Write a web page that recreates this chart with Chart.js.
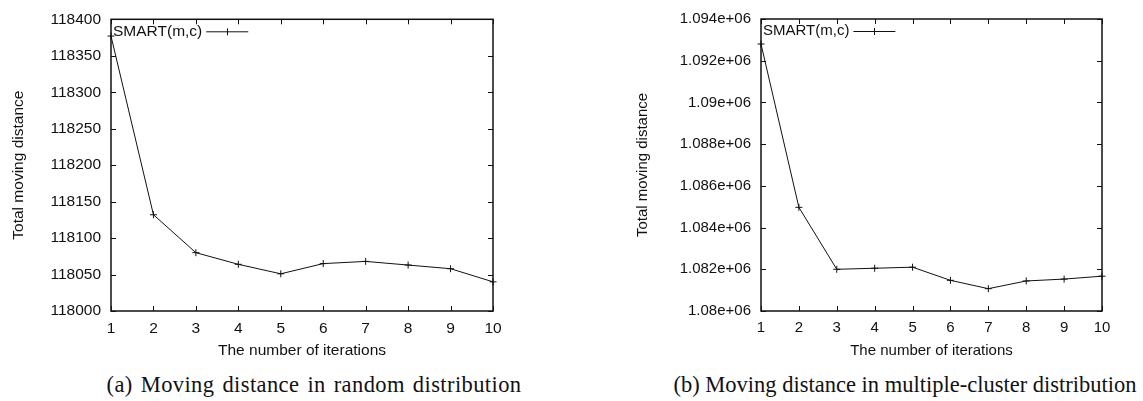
<!DOCTYPE html>
<html>
<head>
<meta charset="utf-8">
<script src="https://cdn.jsdelivr.net/npm/chart.js@4/dist/chart.umd.min.js"></script>
<style>
  body { margin: 0; background: #fff; width: 1143px; height: 401px; position: relative; overflow: hidden; }
  .box { position: absolute; top: 0; height: 370px; }
  #boxA { left: 0; width: 530px; }
  #boxB { left: 620px; width: 523px; }
  .caption { position: absolute; top: 374px; font-family: "Liberation Serif", "Times New Roman", serif; font-size: 22.5px; line-height: 1; color: #111; white-space: nowrap; transform: translateX(-50%); }
</style>
</head>
<body>
<div class="box" id="boxA"><canvas id="chartA"></canvas></div>
<div class="box" id="boxB"><canvas id="chartB"></canvas></div>
<div class="caption" style="left:314px; letter-spacing:0.4px; word-spacing:2px">(a) Moving distance in random distribution</div>
<div class="caption" style="left:905px">(b) Moving distance in multiple-cluster distribution</div>

<script>
const iterations = [1, 2, 3, 4, 5, 6, 7, 8, 9, 10];
const seriesName = 'SMART(m,c)';
// (a) random distribution
const randomDist = [118377, 118132, 118080, 118064, 118051, 118065, 118068, 118063, 118058, 118040];
// (b) multiple-cluster distribution
const clusterDist = [1092800, 1084970, 1082000, 1082050, 1082100, 1081470, 1081070, 1081440, 1081530, 1081670];

const fontFamily = 'Liberation Sans, Arial, sans-serif';
const inkColor = '#111';

// gnuplot style frame: box around the plot with inward ticks on all sides
const framePlugin = {
  id: 'frame',
  afterDatasetsDraw(chart) {
    const ctx = chart.ctx;
    const a = chart.chartArea;
    const xs = chart.scales.x, ys = chart.scales.y;
    const len = 5;
    ctx.save();
    ctx.strokeStyle = inkColor;
    ctx.lineWidth = 1.5;
    ctx.strokeRect(a.left, a.top, a.right - a.left, a.bottom - a.top);
    ctx.lineWidth = 1;
    ctx.beginPath();
    xs.ticks.forEach(t => {
      const px = Math.round(xs.getPixelForValue(t.value)) + 0.5;
      ctx.moveTo(px, a.bottom); ctx.lineTo(px, a.bottom - len);
      ctx.moveTo(px, a.top); ctx.lineTo(px, a.top + len);
    });
    ys.ticks.forEach(t => {
      const py = Math.round(ys.getPixelForValue(t.value)) + 0.5;
      ctx.moveTo(a.left, py); ctx.lineTo(a.left + len, py);
      ctx.moveTo(a.right, py); ctx.lineTo(a.right - len, py);
    });
    ctx.stroke();
    ctx.restore();
  }
};

// key in the top-left corner: text first, then the line sample
const keyPlugin = {
  id: 'key',
  afterDraw(chart) {
    const ctx = chart.ctx;
    const a = chart.chartArea;
    const ds = chart.data.datasets[0];
    const size = chart.options.scales.y.ticks.font.size;
    const y = a.top + 12;
    ctx.save();
    ctx.font = size + 'px ' + fontFamily;
    ctx.fillStyle = inkColor;
    ctx.textBaseline = 'middle';
    ctx.fillText(ds.label, a.left + 2, y);
    const x0 = a.left + 2 + ctx.measureText(ds.label).width + 4;
    const x1 = x0 + 42;
    ctx.strokeStyle = inkColor;
    ctx.lineWidth = 1;
    ctx.beginPath();
    ctx.moveTo(x0, y + 0.5); ctx.lineTo(x1, y + 0.5);
    const mx = Math.round((x0 + x1) / 2) + 0.5;
    ctx.moveTo(mx, y - 3); ctx.lineTo(mx, y + 4);
    ctx.stroke();
    ctx.restore();
  }
};

function makeChart(id, values, yMin, yMax, yStep, yWidth, padRight, yFormat, titlePad, fontSize) {
  const axisFont = { family: fontFamily, size: fontSize };
  return new Chart(document.getElementById(id), {
    type: 'line',
    data: {
      labels: iterations,
      datasets: [{
        label: seriesName,
        data: values.map((v, i) => ({ x: iterations[i], y: v })),
        borderColor: inkColor,
        borderWidth: 1,
        pointStyle: 'cross',
        pointRadius: 3.5,
        pointBorderWidth: 1,
        pointBorderColor: inkColor,
        tension: 0,
        clip: false,
      }],
    },
    options: {
      responsive: true,
      maintainAspectRatio: false,
      animation: false,
      layout: { padding: { top: 15, right: padRight, bottom: 0, left: 0 } },
      plugins: {
        legend: { display: false },
        tooltip: { enabled: false },
      },
      scales: {
        x: {
          type: 'linear',
          min: 1,
          max: 10,
          ticks: { stepSize: 1, padding: 8, color: inkColor, font: axisFont, maxRotation: 0 },
          grid: { display: false, drawTicks: false },
          border: { display: false },
          title: { display: true, text: 'The number of iterations', color: inkColor, font: axisFont, padding: { top: 2, bottom: 10 } },
          afterFit: s => { s.height = 59; },
        },
        y: {
          min: yMin,
          max: yMax,
          ticks: { stepSize: yStep, padding: 10, color: inkColor, font: axisFont, callback: yFormat },
          grid: { display: false, drawTicks: false },
          border: { display: false },
          title: { display: true, text: 'Total moving distance', color: inkColor, font: axisFont, padding: { top: titlePad, bottom: 0 } },
          afterFit: s => { s.width = yWidth; },
        },
      },
    },
    plugins: [framePlugin, keyPlugin],
  });
}

makeChart('chartA', randomDist, 118000, 118400, 50, 111, 37, v => String(v), 9, 15.5);
makeChart('chartB', clusterDist, 1080000, 1094000, 2000, 141, 41,
  v => (v / 1e6).toFixed(3).replace(/0+$/, '') + 'e+06', 14, 15);
</script>
</body>
</html>
